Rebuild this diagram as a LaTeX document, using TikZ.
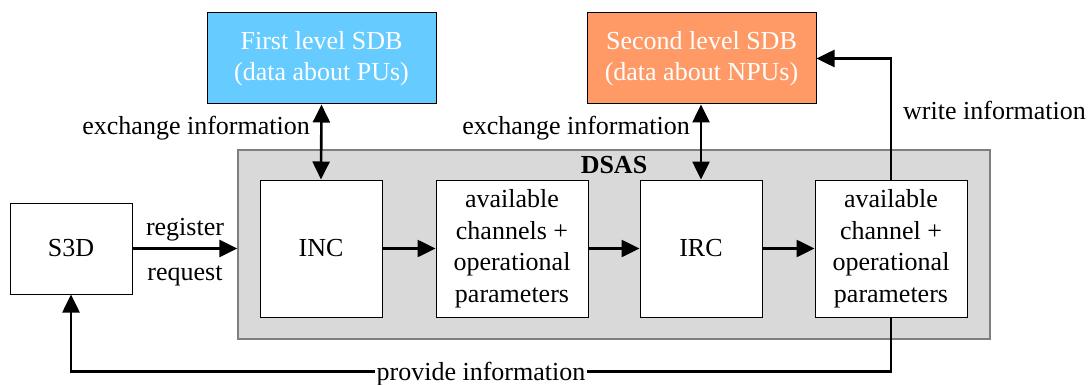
\documentclass[tikz,border=0pt]{standalone}
\usepackage{fontspec}
\setmainfont{Liberation Serif}
\usetikzlibrary{arrows.meta}
\definecolor{sdbblue}{HTML}{66CCFF}
\definecolor{sdborange}{HTML}{FF9966}
\definecolor{dsasgray}{HTML}{D9D9D9}
\definecolor{dsasedge}{HTML}{7F7F7F}
\begin{document}
\begin{tikzpicture}[x=1pt,y=-1pt,
  every node/.style={font=\fontsize{26}{31.5}\selectfont},
  box/.style={draw=black, line width=1pt, fill=white, align=center, inner sep=0pt},
  sdb/.style={box, text=white, minimum width=229pt, minimum height=91pt},
  lbl/.style={inner sep=0pt},
  tip/.tip={Triangle[length=18pt 0 0, width=17pt 0 0]},
  arr/.style={line width=2.6pt, -tip},
  darr/.style={line width=2.6pt, tip-tip}
]
\useasboundingbox (0,0) rectangle (1092,385);

% databases
\node[sdb, fill=sdbblue] (sdb1) at (321.5,58.5) {First level SDB\\(data about PUs)};
\node[sdb, fill=sdborange] (sdb2) at (701.5,58.5) {Second level SDB\\(data about NPUs)};

% DSAS container
\node[draw=dsasedge, fill=dsasgray, line width=1.3pt, minimum width=752pt, minimum height=189pt, inner sep=0pt] (dsas) at (614,244.5) {};
\node[lbl, anchor=base, font=\fontsize{26}{31.5}\selectfont\bfseries] (dsaslbl) at (614,173) {DSAS};

% blocks
\node[box, minimum width=122pt, minimum height=91pt] (s3d) at (71,248.5) {S3D};
\node[box, minimum width=122pt, minimum height=137pt] (inc) at (321,248.5) {INC};
\node[box, minimum width=152pt, minimum height=137pt] (ac1) at (512,248.5) {available\\channels +\\operational\\parameters};
\node[box, minimum width=122pt, minimum height=137pt] (irc) at (701,248.5) {IRC};
\node[box, minimum width=152pt, minimum height=137pt] (ac2) at (891,248.5) {available\\channel +\\operational\\parameters};

% connectors
\draw[darr] (sdb1.south) -- (inc.north);
\draw[darr] (sdb2.south -| irc.north) -- (irc.north);
\draw[arr] (s3d.east) -- (dsas.west |- s3d.east);
\draw[arr] (inc.east) -- (ac1.west);
\draw[arr] (ac1.east) -- (irc.west);
\draw[arr] (irc.east) -- (ac2.west);
\draw[arr] (ac2.north) |- (sdb2.east);
\coordinate (pl) at (0,371.5);
\draw[arr] (ac2.south) -- (ac2.south |- pl) -| (s3d.south);

% labels
\node[lbl, anchor=base east] (ex1) at (310,135) {exchange information};
\node[lbl, anchor=base east] (ex2) at (690,135) {exchange information};
\node[lbl, anchor=base west] (wi) at (903,120) {write information};
\node[lbl, anchor=base] (reg) at (185,235) {register};
\node[lbl, anchor=base] (req) at (185,280.5) {request};
\node[anchor=base, fill=white, inner xsep=2pt, inner ysep=1pt] (pi) at (481,380) {provide information};
\end{tikzpicture}
\end{document}
